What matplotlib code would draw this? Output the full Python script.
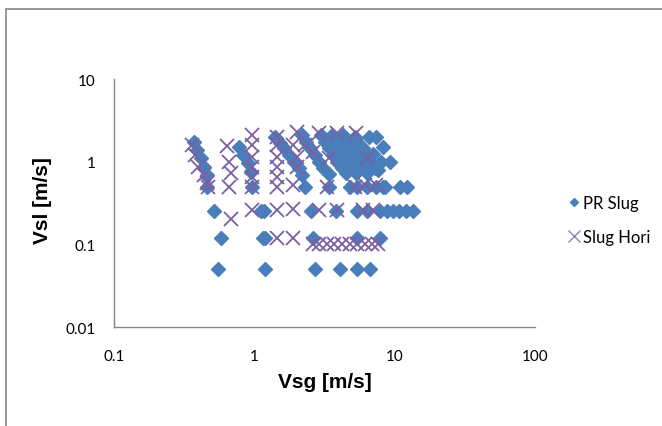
import matplotlib
matplotlib.use("Agg")
import matplotlib.pyplot as plt
from matplotlib.lines import Line2D
from matplotlib.patches import Rectangle
from matplotlib.ticker import FixedLocator, FixedFormatter, NullLocator

# PR Slug (diamonds): superficial gas / liquid velocity, m/s
pr_vsg = [
    0.55, 1.2, 2.7, 4.1, 5.4, 6.7,
    0.58, 1.15, 1.2, 2.6, 5.4, 7.8,
    0.52, 1.12, 1.18, 2.55, 3.85, 5.4, 6.3, 7.8, 8.8, 9.7, 10.8, 12.0, 13.4,
    0.46, 0.97, 2.28, 3.4, 4.8, 5.4, 6.3, 7.4, 8.2, 8.6, 11.0, 12.2,
    0.37, 0.39, 0.42, 0.44, 0.46,
    0.78, 0.83, 0.9, 0.95,
    1.41, 1.53, 1.64, 1.77, 1.93, 2.09, 2.2,
    2.2, 2.35, 2.5, 2.7, 2.9, 3.1, 3.4,
    3.0, 3.2, 3.4, 3.65, 3.9, 4.2, 4.5,
    3.6, 3.85, 4.1, 4.4, 4.7, 5.0, 5.3,
    4.3, 4.6, 4.9, 5.2, 5.6, 6.0, 6.3,
    5.2, 5.5, 5.9, 6.3, 6.7, 7.2,
    6.6, 7.4, 8.2, 7.0, 8.0, 9.2, 7.6,
]
pr_vsl = [
    0.05, 0.05, 0.05, 0.05, 0.05, 0.05,
    0.12, 0.12, 0.12, 0.12, 0.12, 0.12,
    0.25, 0.25, 0.25, 0.25, 0.25, 0.25, 0.25, 0.25, 0.25, 0.25, 0.25, 0.25, 0.25,
    0.5, 0.5, 0.5, 0.5, 0.5, 0.5, 0.5, 0.5, 0.5, 0.5, 0.5, 0.5,
    1.75, 1.4, 1.12, 0.87, 0.69,
    1.52, 1.22, 0.97, 0.74,
    2.0, 1.7, 1.48, 1.22, 1.0, 0.84, 0.69,
    2.1, 1.75, 1.45, 1.2, 1.0, 0.85, 0.7,
    2.1, 1.75, 1.45, 1.2, 1.0, 0.85, 0.72,
    2.1, 1.75, 1.45, 1.2, 1.0, 0.85, 0.72,
    2.1, 1.75, 1.45, 1.2, 1.0, 0.85, 0.72,
    2.0, 1.7, 1.45, 1.2, 1.0, 0.85,
    2.0, 2.0, 1.52, 1.25, 1.0, 1.0, 0.8,
]

# Slug Hori (crosses)
hori_vsg = [
    0.36, 0.38, 0.40, 0.44, 0.46, 0.47,
    0.64, 0.66, 0.68, 0.66, 0.68,
    0.97, 0.97, 0.97, 0.97, 0.97, 0.97, 0.97,
    1.45, 1.45, 1.45, 1.45, 1.45, 1.45, 1.45, 1.45,
    2.0, 1.9, 2.0, 2.0, 1.9, 1.9, 1.9,
    2.3, 2.6, 2.9, 3.9, 5.3, 3.4, 6.4, 3.3, 5.2, 6.1, 7.4,
    2.9, 3.9, 5.9, 7.0,
    2.6, 2.9, 3.3, 3.7, 4.2, 4.8, 5.4, 6.1, 6.9, 7.6,
]
hori_vsl = [
    1.6, 1.22, 0.87, 0.69, 0.55, 0.5,
    1.55, 1.0, 0.72, 0.5, 0.2,
    2.1, 1.6, 1.15, 0.87, 0.66, 0.5, 0.26,
    2.0, 1.6, 1.15, 0.87, 0.66, 0.5, 0.26, 0.12,
    2.3, 1.6, 1.15, 0.87, 0.52, 0.27, 0.12,
    1.6, 1.3, 2.2, 2.2, 2.2, 1.1, 1.1, 0.5, 0.5, 0.52, 0.52,
    0.26, 0.26, 0.26, 0.26,
    0.1, 0.1, 0.1, 0.1, 0.1, 0.1, 0.1, 0.1, 0.1, 0.1,
]

x_ticks = [0.1, 1, 10, 100]
x_tick_labels = ["0.1", "1", "10", "100"]
y_ticks = [0.01, 0.1, 1, 10]
y_tick_labels = ["0.01", "0.1", "1", "10"]

BLUE = "#4a7ebb"
PURPLE = "#7b5fa3"
EDGE_GRAY = "#868686"

fig = plt.figure(figsize=(6.62, 4.27), dpi=100)
fig.patches.append(Rectangle((6 / 662, -0.05), 1.0, 1 - 10 / 427 + 0.05,
                             transform=fig.transFigure, fill=False,
                             edgecolor=EDGE_GRAY, linewidth=1.2))

ax = fig.add_axes((114 / 662, 1 - 328 / 427, 421 / 662, 248 / 427))
ax.set_xscale("log")
ax.set_yscale("log")
ax.set_xlim(0.1, 100)
ax.set_ylim(0.01, 10)

ax.plot(pr_vsg, pr_vsl, linestyle="none", marker="D", markersize=7,
        color=BLUE, markeredgecolor=BLUE, clip_on=False)
ax.plot(hori_vsg, hori_vsl, linestyle="none", marker="x", markersize=9.5,
        markeredgewidth=1.3, color=PURPLE, clip_on=False)

for side in ("top", "right"):
    ax.spines[side].set_visible(False)
for side in ("left", "bottom"):
    ax.spines[side].set_color(EDGE_GRAY)
    ax.spines[side].set_linewidth(1)

ax.xaxis.set_major_locator(FixedLocator(x_ticks))
ax.xaxis.set_major_formatter(FixedFormatter(x_tick_labels))
ax.yaxis.set_major_locator(FixedLocator(y_ticks))
ax.yaxis.set_major_formatter(FixedFormatter(y_tick_labels))
ax.xaxis.set_minor_locator(NullLocator())
ax.yaxis.set_minor_locator(NullLocator())
ax.tick_params(axis="x", length=0, pad=16, labelsize=11)
ax.tick_params(axis="y", length=0, pad=13, labelsize=11)
for lbl in ax.get_xticklabels() + ax.get_yticklabels():
    lbl.set_fontfamily("Lato")

ax.set_xlabel("Vsg [m/s]", fontsize=15, fontweight="bold", family="Liberation Sans")
ax.set_ylabel("Vsl [m/s]", fontsize=15, fontweight="bold", family="Liberation Sans")
ax.xaxis.set_label_coords(0.5, -0.183)
ax.yaxis.set_label_coords(-0.148, 0.514)

handles = [
    Line2D([], [], linestyle="none", marker="D", markersize=4.2,
           color=BLUE, markeredgecolor=BLUE, label="PR Slug"),
    Line2D([], [], linestyle="none", marker="x", markersize=8.5,
           markeredgewidth=1.0, color="#9585b5", label="Slug Hori"),
]
fig.legend(handles=handles, loc="center left",
           bbox_to_anchor=(552 / 662, 1 - 221 / 427),
           frameon=False, handlelength=0.8, handletextpad=0.15,
           labelspacing=1.1, prop={"family": "Lato", "size": 12})

fig.savefig("out.png", dpi=100)
